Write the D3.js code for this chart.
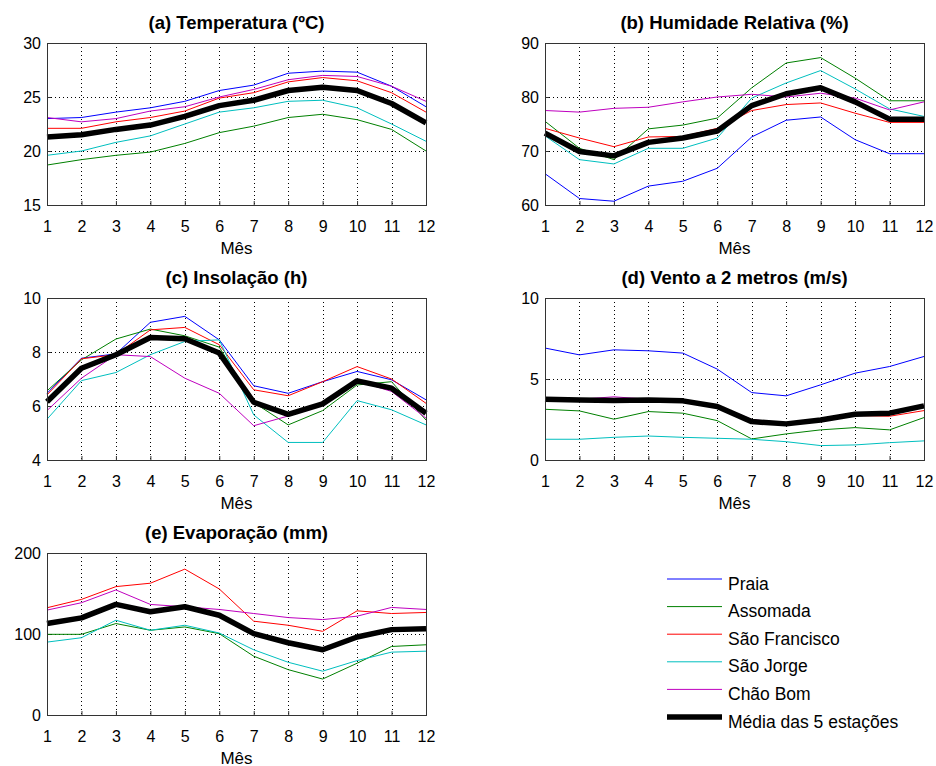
<!DOCTYPE html>
<html>
<head>
<meta charset="utf-8">
<script src="https://cdn.jsdelivr.net/npm/d3@7"></script>
<style>
  body { margin: 0; background: #fff; }
  svg { font-family: "Liberation Sans", Arial, sans-serif; }
  .title { font-weight: bold; font-size: 18.5px; }
  .grid { stroke: #000; stroke-width: 1; stroke-dasharray: 1,3; }
</style>
</head>
<body>
<div id="chart"></div>
<script>
/* global d3 */
const months = [1, 2, 3, 4, 5, 6, 7, 8, 9, 10, 11, 12];
const stations = ['Praia', 'Assomada', 'São Francisco', 'São Jorge', 'Chão Bom', 'Média das 5 estações'];
const colors = ['#0000ff', '#008000', '#ff0000', '#00bfbf', '#bf00bf', '#000000'];

// (a) temperatura
const tempPraia = [23.0, 23.1, 23.6, 24.0, 24.6, 25.6, 26.1, 27.2, 27.4, 27.3, 26.0, 24.1];
const tempAssomada = [18.7, 19.2, 19.6, 19.9, 20.7, 21.7, 22.3, 23.1, 23.4, 22.9, 22.0, 20.0];
const tempSaoFrancisco = [22.1, 22.1, 22.7, 23.1, 23.7, 24.9, 25.4, 26.4, 26.8, 26.5, 25.4, 23.6];
const tempSaoJorge = [19.6, 20.0, 20.8, 21.4, 22.5, 23.6, 24.0, 24.6, 24.7, 24.0, 22.5, 20.9];
const tempChaoBom = [23.1, 22.7, 23.0, 23.7, 24.1, 25.0, 25.7, 26.6, 27.0, 26.9, 26.0, 24.6];
const tempMedia = [21.3, 21.5, 22.0, 22.4, 23.2, 24.2, 24.7, 25.6, 25.9, 25.6, 24.4, 22.6];

// (b) humidade relativa
const humPraia = [65.8, 61.2, 60.7, 63.5, 64.4, 66.8, 72.6, 75.7, 76.3, 72.1, 69.5, 69.5];
const humAssomada = [75.5, 70.5, 68.4, 74.1, 74.8, 76.1, 81.7, 86.3, 87.3, 83.5, 79.3, 79.3];
const humSaoFrancisco = [74.2, 72.4, 70.8, 72.6, 72.7, 74.2, 77.5, 78.6, 78.9, 77.0, 75.3, 75.3];
const humSaoJorge = [72.8, 68.4, 67.6, 70.5, 70.5, 72.4, 79.8, 82.6, 84.9, 81.5, 77.8, 76.4];
const humChaoBom = [77.5, 77.2, 77.9, 78.1, 79.1, 80.0, 80.5, 80.0, 80.7, 79.8, 77.6, 79.1];
const humMedia = [73.3, 69.9, 69.1, 71.6, 72.4, 73.7, 78.4, 80.6, 81.7, 79.1, 75.9, 75.9];

// (c) insolação
const insPraia = [6.47, 7.77, 7.93, 9.10, 9.32, 8.45, 6.75, 6.47, 6.90, 7.28, 6.97, 6.23];
const insAssomada = [6.56, 7.71, 8.48, 8.85, 8.60, 8.18, 6.13, 5.30, 5.83, 6.78, 6.90, 5.48];
const insSaoFrancisco = [6.41, 7.75, 7.90, 8.82, 8.91, 8.27, 6.60, 6.38, 6.90, 7.46, 7.00, 6.10];
const insSaoJorge = [5.51, 6.94, 7.24, 7.90, 8.39, 8.45, 5.67, 4.65, 4.65, 6.20, 5.86, 5.30];
const insChaoBom = [5.83, 7.03, 7.90, 7.83, 7.03, 6.47, 5.27, 5.63, 6.10, 6.93, 6.54, 5.55];
const insMedia = [6.16, 7.40, 7.90, 8.54, 8.49, 7.96, 6.14, 5.69, 6.08, 6.93, 6.66, 5.73];

// (d) vento a 2 metros
const ventoPraia = [6.91, 6.49, 6.80, 6.74, 6.60, 5.61, 4.16, 3.96, 4.64, 5.36, 5.77, 6.39];
const ventoAssomada = [3.13, 3.03, 2.52, 2.99, 2.89, 2.43, 1.30, 1.61, 1.86, 2.00, 1.86, 2.62];
const ventoSaoFrancisco = [3.70, 3.70, 3.65, 3.70, 3.60, 3.25, 2.30, 2.20, 2.45, 2.75, 2.70, 3.05];
const ventoSaoJorge = [1.28, 1.28, 1.40, 1.48, 1.40, 1.34, 1.28, 1.13, 0.89, 0.93, 1.07, 1.18];
const ventoChaoBom = [3.80, 3.75, 3.90, 3.75, 3.70, 3.40, 2.50, 2.25, 2.50, 2.85, 2.95, 3.35];
const ventoMedia = [3.75, 3.71, 3.67, 3.71, 3.65, 3.30, 2.37, 2.23, 2.47, 2.82, 2.89, 3.34];

// (e) evaporação (sem dados para Praia)
const evapPraia = null;
const evapAssomada = [99.6, 99.6, 112.9, 104.6, 108.7, 100.4, 72.6, 56.0, 44.4, 63.9, 84.6, 86.7];
const evapSaoFrancisco = [132.4, 142.7, 158.5, 162.7, 180.1, 155.6, 115.8, 110.8, 103.3, 128.6, 125.3, 126.6];
const evapSaoJorge = [90.0, 95.4, 117.0, 104.6, 110.8, 101.2, 80.5, 65.1, 54.1, 67.2, 77.6, 78.8];
const evapChaoBom = [129.5, 138.6, 154.4, 136.5, 133.6, 130.3, 125.3, 120.3, 117.8, 122.0, 132.8, 130.3];
const evapMedia = [112.9, 119.9, 136.5, 127.4, 133.6, 123.2, 100.4, 89.2, 80.5, 96.3, 105.4, 106.6];

const panels = [
  { title: '(a) Temperatura (ºC)', x: 47, y: 43, domain: [15, 30], ticks: [15, 20, 25, 30],
    series: [tempPraia, tempAssomada, tempSaoFrancisco, tempSaoJorge, tempChaoBom, tempMedia] },
  { title: '(b) Humidade Relativa (%)', x: 545, y: 43, domain: [60, 90], ticks: [60, 70, 80, 90],
    series: [humPraia, humAssomada, humSaoFrancisco, humSaoJorge, humChaoBom, humMedia] },
  { title: '(c) Insolação (h)', x: 47, y: 298, domain: [4, 10], ticks: [4, 6, 8, 10],
    series: [insPraia, insAssomada, insSaoFrancisco, insSaoJorge, insChaoBom, insMedia] },
  { title: '(d) Vento a 2 metros (m/s)', x: 545, y: 298, domain: [0, 10], ticks: [0, 5, 10],
    series: [ventoPraia, ventoAssomada, ventoSaoFrancisco, ventoSaoJorge, ventoChaoBom, ventoMedia] },
  { title: '(e) Evaporação (mm)', x: 47, y: 553, domain: [0, 200], ticks: [0, 100, 200],
    series: [evapPraia, evapAssomada, evapSaoFrancisco, evapSaoJorge, evapChaoBom, evapMedia] }
];

const plotW = 379;
const plotH = 162;

let svg = d3.select('#chart')
  .append('svg')
  .attr('width', 936)
  .attr('height', 766);

svg.append('rect')
  .attr('width', 936)
  .attr('height', 766)
  .attr('fill', '#fff');

panels.forEach(drawPanel);
drawLegend();

function drawPanel(p) {
  let g = svg.append('g').attr('transform', `translate(${p.x},${p.y})`);
  let x = d3.scaleLinear().domain([1, 12]).range([0, plotW]);
  let y = d3.scaleLinear().domain(p.domain).range([plotH, 0]);

  // grid
  g.selectAll('.gx')
    .data(months.slice(1, -1))
    .enter().append('line')
    .attr('class', 'grid')
    .attr('x1', d => Math.round(x(d)) + 0.5).attr('x2', d => Math.round(x(d)) + 0.5)
    .attr('y1', 0).attr('y2', plotH);
  g.selectAll('.gy')
    .data(p.ticks.slice(1, -1))
    .enter().append('line')
    .attr('class', 'grid')
    .attr('x1', 0).attr('x2', plotW)
    .attr('y1', d => Math.round(y(d)) + 0.5).attr('y2', d => Math.round(y(d)) + 0.5);

  // axes
  let xAxis = d3.axisBottom(x).tickValues(months).tickSize(-4).tickPadding(16).tickFormat(d3.format('d'));
  let yAxis = d3.axisLeft(y).tickValues(p.ticks).tickSize(-4).tickPadding(6).tickFormat(d3.format('d'));
  let ax = g.append('g').attr('transform', `translate(0,${plotH})`).call(xAxis);
  let ay = g.append('g').call(yAxis);
  [ax, ay].forEach(a => {
    a.select('.domain').remove();
    a.selectAll('line').attr('stroke', '#333');
    a.selectAll('text').attr('fill', '#000')
      .style('font-size', '16px').style('font-family', '"Liberation Sans", Arial, sans-serif');
  });

  // lines
  let line = d3.line()
    .x((d, i) => x(months[i]))
    .y(d => y(d));
  p.series.forEach((values, i) => {
    if (!values) return;
    g.append('path')
      .datum(values)
      .attr('fill', 'none')
      .attr('stroke', colors[i])
      .attr('stroke-width', i === 5 ? 5.5 : 1)
      .attr('stroke-linejoin', 'round')
      .attr('d', line);
  });

  // box
  g.append('rect')
    .attr('x', 0.5).attr('y', 0.5)
    .attr('width', plotW).attr('height', plotH)
    .attr('fill', 'none')
    .attr('stroke', '#333');

  g.append('text')
    .attr('class', 'title')
    .attr('x', plotW / 2)
    .attr('y', -14)
    .attr('text-anchor', 'middle')
    .text(p.title);

  g.append('text')
    .attr('x', plotW / 2)
    .attr('y', plotH + 49)
    .attr('text-anchor', 'middle')
    .style('font-size', '17px')
    .text('Mês');
}

function drawLegend() {
  let legend = svg.append('g').attr('transform', 'translate(667,579)');
  let rows = legend.selectAll('.row')
    .data(stations)
    .enter().append('g')
    .attr('transform', (d, i) => `translate(0,${i * 27.6})`);
  rows.append('line')
    .attr('x1', 0).attr('x2', 55)
    .attr('y1', 0).attr('y2', 0)
    .attr('stroke', (d, i) => colors[i])
    .attr('stroke-width', (d, i) => i === 5 ? 5.5 : 1);
  rows.append('text')
    .attr('x', 61)
    .attr('y', 10.5)
    .style('font-size', '17.5px')
    .text(d => d);
}
</script>
</body>
</html>
